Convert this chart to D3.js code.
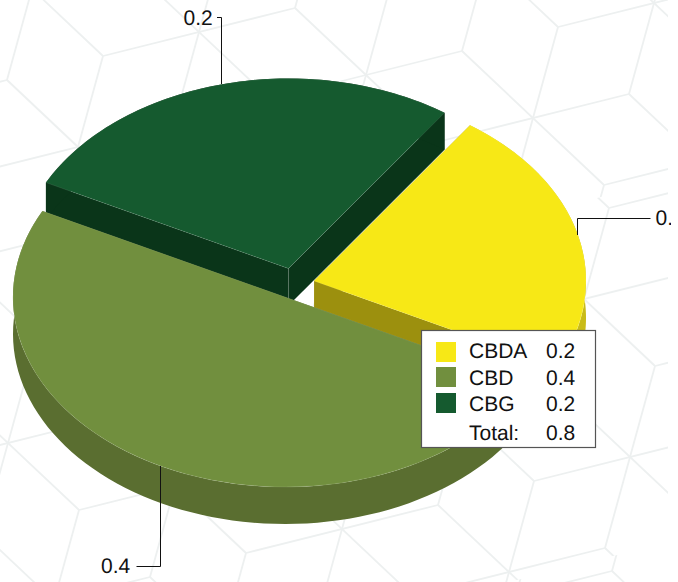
<!DOCTYPE html>
<html>
<head>
<meta charset="utf-8">
<script src="https://cdn.jsdelivr.net/npm/d3@7"></script>
<style>
  html, body { margin: 0; padding: 0; background: #fff; }
  svg { display: block; }
  text { font-family: "Liberation Sans", Arial, sans-serif; fill: #111; font-size: 21px; text-rendering: geometricPrecision; }
</style>
</head>
<body>
<div id="chart"></div>
<script>
const names = ["CBDA", "CBD", "CBG"];
// legend shows one decimal, the slices are a bit uneven so the raw values are estimates
const values = [0.182, 0.40, 0.218];
const colors = ["#f7e816", "#718f3e", "#155a2f"];
const rimColors = ["#c9bb17", "#5a6e30", "#0a3519"];
const cutColors = ["#9c900e", "#5a6e30", "#0a3519"];

const width = 678, height = 582;
const fmt = d3.format(".1f");

const svg = d3.select("#chart").append("svg")
    .attr("width", width)
    .attr("height", height);

// background cube pattern, it is a tiled picture so there are seams between strips
const u = [96, -24], v = [-25, 91];
const dirs = [u, v, [-u[0] - v[0], -u[1] - v[1]]];
const seamSlope = u[1] / u[0];
const seamAt = function(y605, x) { return y605 + (x - 605) * seamSlope; };
const strips = [
    {origin: [78, 147], top: -167, bottom: 196},
    {origin: [630, 457], top: 196, bottom: 558},
    {origin: [516, 595], top: 558, bottom: 921}
];
const defs = svg.append("defs");
strips.forEach(function(s, k) {
    defs.append("clipPath").attr("id", "strip" + k).append("polygon")
        .attr("points", [[0, seamAt(s.top, 0)], [668, seamAt(s.top, 668)], [668, seamAt(s.bottom, 668)], [0, seamAt(s.bottom, 0)]].join(" "));
    const bg = svg.append("g")
        .attr("clip-path", "url(#strip" + k + ")")
        .attr("stroke", "#edf0f0")
        .attr("stroke-width", 1.8)
        .attr("fill", "none");
    d3.range(-12, 13).forEach(function(i) {
        d3.range(-12, 13).forEach(function(j) {
            if ((((i + j) % 3) + 3) % 3 !== 0) return;
            const x = s.origin[0] + i * u[0] + j * v[0],
                  y = s.origin[1] + i * u[1] + j * v[1];
            if (x < -150 || x > width + 150 || y < -150 || y > height + 150) return;
            dirs.forEach(function(d) {
                bg.append("line").attr("x1", x - d[0]).attr("y1", y - d[1]).attr("x2", x + d[0]).attr("y2", y + d[1]);
            });
        });
    });
});

// pie geometry
const rx = 272, ry = 190, depth = 37;
const squash = ry / rx;
const centers = [[314, 281], [285, 297], [288.5, 268.5]];

const pie = d3.pie().sort(null).startAngle(35 * Math.PI / 180).endAngle(395 * Math.PI / 180);
const slices = pie(values);
const arc = d3.arc().innerRadius(0).outerRadius(rx);

function pt(c, a) {
    return [c[0] + rx * Math.sin(a), c[1] - ry * Math.cos(a)];
}

function rimPoints(c, a0, a1) {
    const n = 80;
    const top = d3.range(n + 1).map(function(k) { return pt(c, a0 + (a1 - a0) * k / n); });
    const bottom = top.slice().reverse().map(function(p) { return [p[0], p[1] + depth]; });
    return top.concat(bottom);
}

const line = d3.line().curve(d3.curveLinearClosed);

// back to front: dark green, yellow, olive
[2, 0, 1].forEach(function(idx) {
    const s = slices[idx], c = centers[idx];
    const g = svg.append("g");
    const cut = function(a) {
        const p = pt(c, a);
        return [[c[0], c[1]], p, [p[0], p[1] + depth], [c[0], c[1] + depth]];
    };
    g.append("path").attr("d", line(cut(s.startAngle))).attr("fill", cutColors[idx]);
    g.append("path").attr("d", line(cut(s.endAngle))).attr("fill", cutColors[idx]);
    g.append("path").attr("d", line(rimPoints(c, s.startAngle, s.endAngle))).attr("fill", rimColors[idx]);
    // thin light seam down the inner corner
    g.append("path")
        .attr("d", d3.line()([[c[0], c[1]], [c[0], c[1] + depth]]))
        .attr("stroke", "#fff").attr("stroke-opacity", 0.15).attr("stroke-width", 0.7);
    g.append("path")
        .attr("transform", "translate(" + c[0] + "," + c[1] + ") scale(1," + squash + ")")
        .attr("d", arc(s))
        .attr("fill", colors[idx])
        .attr("stroke", "#fff")
        .attr("stroke-opacity", 0.18)
        .attr("stroke-width", 0.6);
});

// leader lines and labels
function leader(points) {
    svg.append("path").attr("d", d3.line()(points)).attr("fill", "none").attr("stroke", "#111").attr("stroke-width", 1);
}
leader([[577.5, 235], [577.5, 218.5], [650.5, 218.5]]);
leader([[221.5, 84], [221.5, 17.5], [217, 17.5]]);
leader([[160.5, 466], [160.5, 566.5], [136.5, 566.5]]);

// the right hand label runs off the picture in the original
defs.append("clipPath").attr("id", "pageClip").append("rect").attr("width", 671).attr("height", height);
svg.append("text").attr("x", 655.5).attr("y", 225).attr("clip-path", "url(#pageClip)").text(fmt(values[0]));
svg.append("text").attr("x", 183.5).attr("y", 25).text(fmt(values[2]));
svg.append("text").attr("x", 101).attr("y", 573).text(fmt(values[1]));

// legend
const lg = svg.append("g").attr("transform", "translate(421.5,330.5)");
lg.append("rect").attr("width", 174).attr("height", 117).attr("fill", "#fff").attr("stroke", "#555").attr("stroke-width", 1.2);
const swatchY = [11.5, 36.5, 62.5], baseY = [27.5, 54.5, 80];
names.forEach(function(n, i) {
    lg.append("rect").attr("x", 14.5).attr("y", swatchY[i]).attr("width", 20).attr("height", 20).attr("fill", colors[i]);
    lg.append("text").attr("x", 47.5).attr("y", baseY[i]).text(n);
    lg.append("text").attr("x", 124.5).attr("y", baseY[i]).text(fmt(values[i]));
});
lg.append("text").attr("x", 47.5).attr("y", 109.5).text("Total:");
lg.append("text").attr("x", 124.5).attr("y", 109.5).text(fmt(d3.sum(values)));
</script>
</body>
</html>
